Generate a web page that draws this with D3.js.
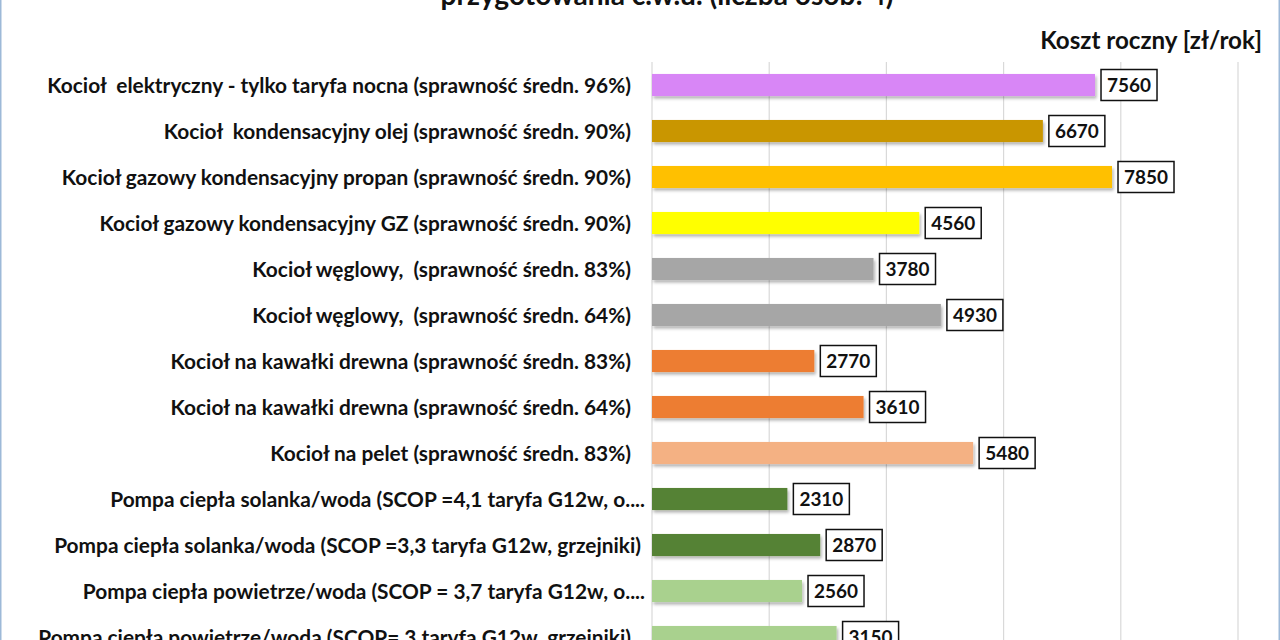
<!DOCTYPE html>
<html><head><meta charset="utf-8">
<script src="https://cdn.jsdelivr.net/npm/d3@7"></script>
<style>html,body{margin:0;padding:0;background:#fff;}svg{display:block;font-family:Lato,"Open Sans",sans-serif;}svg text{white-space:pre;}</style>
</head><body>
<svg id="c" width="1280" height="640"></svg>
<script>
const categories = [
  "Kocioł  elektryczny - tylko taryfa nocna (sprawność średn. 96%)",
  "Kocioł  kondensacyjny olej (sprawność średn. 90%)",
  "Kocioł gazowy kondensacyjny propan (sprawność średn. 90%)",
  "Kocioł gazowy kondensacyjny GZ (sprawność średn. 90%)",
  "Kocioł węglowy,  (sprawność średn. 83%)",
  "Kocioł węglowy,  (sprawność średn. 64%)",
  "Kocioł na kawałki drewna (sprawność średn. 83%)",
  "Kocioł na kawałki drewna (sprawność średn. 64%)",
  "Kocioł na pelet (sprawność średn. 83%)",
  "Pompa ciepła solanka/woda (SCOP =4,1 taryfa G12w, o....",
  "Pompa ciepła solanka/woda (SCOP =3,3 taryfa G12w, grzejniki)",
  "Pompa ciepła powietrze/woda (SCOP = 3,7 taryfa G12w, o....",
  "Pompa ciepła powietrze/woda (SCOP= 3 taryfa G12w, grzejniki)"
];
const values = [7560, 6670, 7850, 4560, 3780, 4930, 2770, 3610, 5480, 2310, 2870, 2560, 3150];
const colors = ["#D886F6","#C99606","#FFC000","#FFFF00","#A6A6A6","#A6A6A6","#ED7D31","#ED7D31","#F4B183","#548235","#548235","#A9D18E","#A9D18E"];
const xTicks = [0, 2000, 4000, 6000, 8000, 10000];
const titleText = "przygotowania c.w.u. (liczba osób: 4)";
const axisTitle = "Koszt roczny [zł/rok]";

const svg = d3.select("#c");
const defs = svg.append("defs");
const f = defs.append("filter").attr("id","sh").attr("x","-5%").attr("y","-30%").attr("width","110%").attr("height","180%");
f.append("feDropShadow").attr("dx",1.5).attr("dy",2.5).attr("stdDeviation",1.5).attr("flood-color","#000").attr("flood-opacity",0.3);

function fitWidth(sel, target){
  const fs0 = +sel.attr("font-size");
  const w = sel.node().getComputedTextLength();
  sel.attr("font-size", fs0*target/w);
  return fs0*target/w;
}

// frame
svg.append("rect").attr("x",0.75).attr("y",-5).attr("width",1278.5).attr("height",660)
  .attr("fill","none").attr("stroke","#9DB9D8").attr("stroke-width",1.5);

const x = d3.scaleLinear().domain([0,10000]).range([652,1238]);
const y = d3.scaleBand().domain(categories).range([62, 62+46*categories.length]).paddingInner(0.52).paddingOuter(0.26);

// gridlines
svg.append("g").selectAll("line").data(xTicks).join("line")
  .attr("x1",d=>x(d)).attr("x2",d=>x(d)).attr("y1",62).attr("y2",660)
  .attr("stroke","#D9D9D9").attr("stroke-width",1.2);

// title (cut off at the top as in the reference)
const t = svg.append("text").attr("x",667).attr("y",5).attr("text-anchor","middle")
  .attr("font-weight","bold").attr("font-size",24).attr("fill","#111").text(titleText);
fitWidth(t, 453);

const at = svg.append("text").attr("x",1262).attr("y",49).attr("text-anchor","end")
  .attr("font-weight","bold").attr("font-size",20).attr("fill","#111").text(axisTitle);
fitWidth(at, 222);

// bars
svg.append("g").selectAll("rect").data(values).join("rect")
  .attr("x",x(0)).attr("y",(d,i)=>y(categories[i]))
  .attr("width",d=>x(d)-x(0)).attr("height",y.bandwidth())
  .attr("fill",(d,i)=>colors[i]).attr("filter","url(#sh)");

// category labels
const lab = svg.append("g").selectAll("text").data(categories).join("text")
  .attr("x",d=>d.endsWith("....")?645:(d.includes("SCOP =3,3")?641:631))
  .attr("y",d=>y(d)+y.bandwidth()/2).attr("dy","0.36em")
  .attr("text-anchor","end").attr("font-weight","bold").attr("font-size",17).attr("fill","#111")
  .text(d=>d);
const w0 = lab.nodes()[0].getComputedTextLength();
lab.attr("font-size",17*584/w0);

// value labels
const vg = svg.append("g").selectAll("g").data(values).join("g")
  .attr("transform",(d,i)=>`translate(${x(d)+6},${y(categories[i])+y.bandwidth()/2})`);
vg.append("rect").attr("x",0).attr("y",-15.5).attr("width",56).attr("height",31)
  .attr("fill","#fff").attr("stroke","#111").attr("stroke-width",1.5);
const vt = vg.append("text").attr("x",28).attr("y",0).attr("dy","0.36em").attr("text-anchor","middle")
  .attr("font-weight","bold").attr("font-size",17).attr("fill","#111").text(d=>d);
const vw = vt.nodes()[0].getComputedTextLength();
vt.attr("font-size",17*44/vw);
</script>
</body></html>
